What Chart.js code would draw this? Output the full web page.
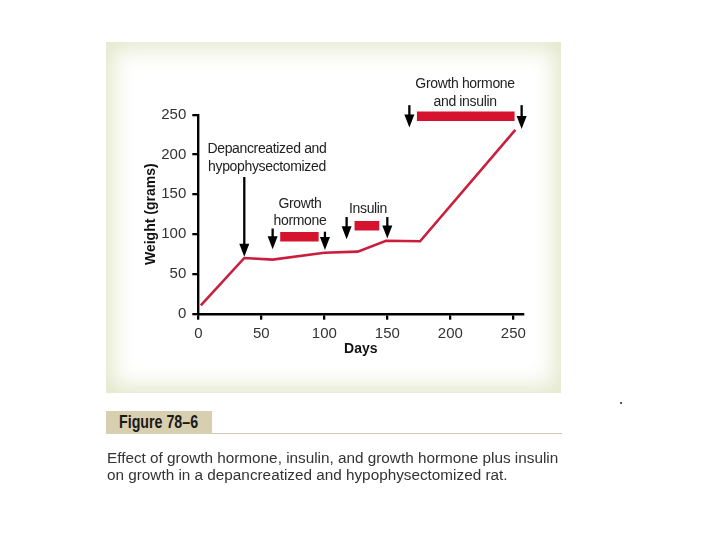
<!DOCTYPE html>
<html>
<head>
<meta charset="utf-8">
<script src="https://cdn.jsdelivr.net/npm/chart.js@4"></script>
<style>
    html, body { margin: 0; padding: 0; background: #fff; }
    body { width: 720px; height: 540px; position: relative; overflow: hidden; font-family: "Liberation Sans", Arial, sans-serif; }
    .panel {
        position: absolute; left: 106px; top: 42px; width: 455px; height: 351px;
        background: #fff;
        box-shadow: inset 0 0 22px 7px #e3e8cb;
    }
    #chart { position: absolute; left: 0; top: 0; }
    .figtag {
        position: absolute; left: 106px; top: 411px; width: 106px; height: 23px;
        background: #d8cfb1; color: #1a1a1a; white-space: nowrap;
        font: bold 18px "Liberation Sans", Arial, sans-serif;
        line-height: 23px;
    }
    .figtag span { display: inline-block; margin-left: 13px; transform: scaleX(0.79); transform-origin: left center; }
    .figline { position: absolute; left: 212px; top: 433px; width: 350px; height: 1px; background: #cfc8ad; }
    .caption {
        position: absolute; left: 107px; top: 449px; width: 520px; white-space: nowrap;
        font-size: 15.3px; line-height: 17px; color: #333;
    }
    .dot { position: absolute; left: 620px; top: 402px; width: 2px; height: 2px; background: #555; }
</style>
</head>
<body>
<div class="panel"></div>
<canvas id="chart" width="720" height="540"></canvas>
<div class="figtag"><span>Figure 78–6</span></div>
<div class="figline"></div>
<div class="caption">Effect of growth hormone, insulin, and growth hormone plus insulin<br>on growth in a depancreatized and hypophysectomized rat.</div>
<div class="dot"></div>

<script>
// weight curve (days, grams)
const days    = [2, 36.5, 59, 100, 126.5, 149, 176, 251.6];
const weights = [10.5, 70, 68, 76.5, 78, 91.7, 91, 231];

const xTicks = [0, 50, 100, 150, 200, 250];
const yTicks = [0, 50, 100, 150, 200, 250];

// treatment periods (red bars)
const barStart = [65, 124, 173.5];
const barEnd   = [95.5, 143.6, 251];
const barLevel = [96.7, 110.5, 248];

// arrows: day, top of shaft, tip (grams)
const arrowDays = [36.5, 59, 100.5, 117.7, 150, 167.5, 256.6];
const arrowTop  = [171.7, 107, 103, 121.4, 121.4, 262, 262];
const arrowTip  = [71.5, 81, 80, 93.5, 94.5, 234, 232];

// annotation text, anchored in data units (centre day, grams)
const noteText = ["Depancreatized and", "hypophysectomized", "Growth", "hormone", "Insulin", "Growth hormone", "and insulin"];
const noteDay  = [54.5, 54.5, 80.7, 80.7, 134.7, 211.7, 211.7];
const noteGram = [207, 184, 137.8, 116.5, 131.5, 288.6, 266];

const RED_LINE = "#c91f3d";
const RED_BAR  = "#d6132f";

const datasets = [{
    data: days.map((d, i) => ({ x: d, y: weights[i] })),
    borderColor: RED_LINE,
    borderWidth: 2.6,
    pointRadius: 0,
    tension: 0,
    clip: false
}];

barStart.forEach((s, i) => {
    datasets.push({
        data: [{ x: s, y: barLevel[i] }, { x: barEnd[i], y: barLevel[i] }],
        borderColor: RED_BAR,
        borderWidth: 9.5,
        borderCapStyle: "butt",
        pointRadius: 0,
        clip: false
    });
});

/* ================= ANNOTATIONS ================= */

const notes = {
    id: "notes",
    afterDatasetsDraw(chart) {
        const { ctx, scales: { x, y } } = chart;
        ctx.save();

        // arrows
        ctx.fillStyle = "#000";
        ctx.strokeStyle = "#000";
        arrowDays.forEach((d, i) => {
            const px = x.getPixelForValue(d);
            const top = y.getPixelForValue(arrowTop[i]);
            const tip = y.getPixelForValue(arrowTip[i]);
            const head = 13;
            ctx.lineWidth = 2.3;
            ctx.beginPath();
            ctx.moveTo(px, top);
            ctx.lineTo(px, tip - head + 2);
            ctx.stroke();
            ctx.beginPath();
            ctx.moveTo(px - 5, tip - head);
            ctx.lineTo(px + 5, tip - head);
            ctx.lineTo(px, tip);
            ctx.closePath();
            ctx.fill();
        });

        // labels
        ctx.fillStyle = "#222";
        ctx.font = "14px 'Liberation Sans', Arial, sans-serif";
        ctx.letterSpacing = "-0.35px";
        ctx.textAlign = "center";
        ctx.textBaseline = "middle";
        noteText.forEach((t, i) => {
            ctx.fillText(t, x.getPixelForValue(noteDay[i]), y.getPixelForValue(noteGram[i]));
        });
        ctx.restore();
    }
};

/* ================= CHART ================= */

new Chart(document.getElementById("chart"), {
    type: "line",
    data: { datasets },
    plugins: [notes],
    options: {
        responsive: false,
        animation: false,
        layout: { padding: { left: 0, right: 196.6, top: 114.7, bottom: 181.3 } },
        plugins: { legend: { display: false }, tooltip: { enabled: false } },
        scales: {
            x: {
                type: "linear",
                min: 0,
                max: 258,
                afterBuildTicks: s => { s.ticks = xTicks.map(v => ({ value: v })); },
                afterFit: s => { s.height = 45; },
                ticks: { color: "#333", padding: 5, font: { size: 15, family: "Liberation Sans" } },
                grid: { display: true, drawOnChartArea: false, drawTicks: true, tickLength: 6, color: "#000", lineWidth: 2.3 },
                border: { display: true, color: "#000", width: 2.4 },
                title: {
                    display: true, text: "Days", color: "#111",
                    font: { size: 14, weight: "bold", family: "Liberation Sans" },
                    padding: { top: 0, bottom: 1.3 }
                }
            },
            y: {
                min: 0,
                max: 250,
                afterBuildTicks: s => { s.ticks = yTicks.map(v => ({ value: v })); },
                afterFit: s => { s.width = 198.3; },
                ticks: { color: "#333", padding: 6, font: { size: 15, family: "Liberation Sans" } },
                grid: { display: true, drawOnChartArea: false, drawTicks: true, tickLength: 6, color: "#000", lineWidth: 2.3 },
                border: { display: true, color: "#000", width: 2.4 },
                title: {
                    display: true, text: "Weight (grams)", color: "#111",
                    font: { size: 14, weight: "bold", family: "Liberation Sans" },
                    padding: { top: 142.6, bottom: 0 }
                }
            }
        }
    }
});
</script>
</body>
</html>
